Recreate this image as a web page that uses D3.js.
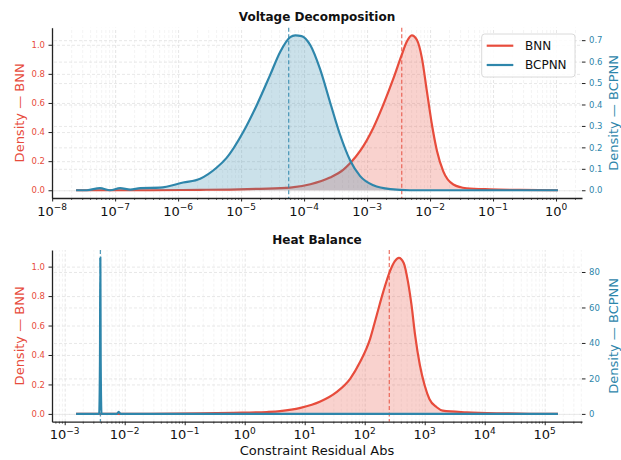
<!DOCTYPE html>
<html>
<head>
<meta charset="utf-8">
<script src="https://cdn.jsdelivr.net/npm/d3@7"></script>
<style>
  body { margin: 0; background: #fff; }
  svg { display: block; font-family: "DejaVu Sans", sans-serif; }
</style>
</head>
<body>
<svg id="chart" width="621" height="460"></svg>
<script>
// Voltage Decomposition: residual as log10 exponent, density
var vdBnnExp = [-7.62, -6.44, -5.65, -5.17, -4.70, -4.22, -3.90, -3.59, -3.38, -3.27, -3.11, -2.90, -2.74, -2.58,
  -2.45, -2.37, -2.29, -2.21, -2.13, -2.05, -1.97, -1.89, -1.79, -1.63, -1.42, -1.05, -0.57, 0.03];
var vdBnnDen = [0, 0, 0.003, 0.005, 0.01, 0.018, 0.041, 0.087, 0.14, 0.185, 0.27, 0.43, 0.59, 0.77,
  0.93, 1.02, 1.064, 1.034, 0.91, 0.68, 0.45, 0.27, 0.13, 0.04, 0.014, 0.006, 0.002, 0];
var vdBcpnnExp = [-7.62, -7.45, -7.24, -7.08, -6.92, -6.76, -6.60, -6.29, -5.92, -5.65, -5.39, -5.23, -4.96, -4.75,
  -4.54, -4.38, -4.22, -4.14, -4.04, -3.90, -3.75, -3.59, -3.43, -3.27, -3.11, -2.90, -2.63, -2.32, 0.03];
var vdBcpnnDen = [0, 0, 0.01, 0, 0.01, 0.003, 0.01, 0.012, 0.036, 0.054, 0.105, 0.151, 0.275, 0.398,
  0.537, 0.645, 0.714, 0.722, 0.719, 0.676, 0.568, 0.413, 0.26, 0.14, 0.066, 0.023, 0.005, 0, 0];
var vdBnnMedian = 3.55e-3;
var vdBcpnnMedian = 5.7e-5;

// Heat Balance
var hbBnnExp = [-2.81, -1.57, -0.74, -0.19, 0.37, 0.59, 0.93, 1.26, 1.53, 1.76, 1.92, 2.09, 2.20, 2.31, 2.42,
  2.50, 2.57, 2.65, 2.72, 2.78, 2.84, 2.92, 3.00, 3.08, 3.20, 3.30, 3.70, 4.25, 4.75, 5.22];
var hbBnnDen = [0, 0, 0.003, 0.007, 0.013, 0.019, 0.041, 0.084, 0.148, 0.24, 0.35, 0.51, 0.67, 0.83, 0.968,
  1.036, 1.06, 1.025, 0.90, 0.74, 0.535, 0.33, 0.193, 0.10, 0.045, 0.022, 0.011, 0.004, 0.001, 0];
var hbBcpnnExp = [-2.81, -2.425, -2.412, -2.406, -2.400, -2.387, -2.13, -2.10, -2.07, 5.22];
var hbBcpnnDen = [0, 0, 30, 88, 30, 0, 0, 1.2, 0, 0];
var hbBnnMedian = 257;
var hbBcpnnMedian = 3.93e-3;

// tick labels
var vdLeftTicks = [0, 0.2, 0.4, 0.6, 0.8, 1.0];
var vdRightTicks = [0, 0.1, 0.2, 0.3, 0.4, 0.5, 0.6, 0.7];
var hbLeftTicks = [0, 0.2, 0.4, 0.6, 0.8, 1.0];
var hbRightTicks = [0, 20, 40, 60, 80];

var seriesNames = ["BNN", "BCPNN"];
var red = "#e74c3c", blue = "#2e86ab";

var svg = d3.select("#chart");
var left = 52, right = 582;

function toPoints(exps, dens) {
  return exps.map(function(e, i) { return [Math.pow(10, e), dens[i]]; });
}

function drawPanel(p) {
  var g = svg.append("g");
  var allExp = p.bnnExp.concat(p.bcpnnExp);
  var lo = d3.min(allExp), hi = d3.max(allExp), pad = (hi - lo) * 0.05;
  var x = d3.scaleLog().domain([Math.pow(10, lo - pad), Math.pow(10, hi + pad)]).range([left, right]);

  var maxL = d3.max(p.bnnDen), maxR = d3.max(p.bcpnnDen);
  var yL = d3.scaleLinear().domain([-0.05 * maxL, 1.05 * maxL]).range([p.bottom, p.top]);
  var yR = d3.scaleLinear().domain([-0.05 * maxR, 1.05 * maxR]).range([p.bottom, p.top]);
  var h = p.bottom - p.top;

  // decade and minor tick values
  var e0 = Math.ceil(lo - pad), e1 = Math.floor(hi + pad);
  var majors = d3.range(e0, e1 + 1).map(function(e) { return Math.pow(10, e); });
  var minors = [];
  d3.range(e0 - 1, e1 + 1).forEach(function(e) {
    for (var k = 2; k < 10; k++) {
      var v = k * Math.pow(10, e);
      if (v >= x.domain()[0] && v <= x.domain()[1]) minors.push(v);
    }
  });

  // grid
  function gridStyle(sel, col, w) {
    sel.select(".domain").remove();
    sel.selectAll("line").attr("stroke", col).attr("stroke-width", w).attr("stroke-dasharray", "3,2");
  }
  g.append("g").attr("transform", "translate(0," + p.bottom + ")")
    .call(d3.axisBottom(x).tickValues(minors).tickSize(-h).tickFormat(""))
    .call(gridStyle, "#ededed", 0.6);
  g.append("g").attr("transform", "translate(0," + p.bottom + ")")
    .call(d3.axisBottom(x).tickValues(majors).tickSize(-h).tickFormat(""))
    .call(gridStyle, "#dedede", 0.8);
  g.append("g").attr("transform", "translate(" + left + ",0)")
    .call(d3.axisLeft(yL).tickValues(p.leftTicks).tickSize(-(right - left)).tickFormat(""))
    .call(gridStyle, "#e2e2e2", 0.8);
  g.append("g").attr("transform", "translate(" + right + ",0)")
    .call(d3.axisRight(yR).tickValues(p.rightTicks).tickSize(-(right - left)).tickFormat(""))
    .call(gridStyle, "#e2e2e2", 0.8);

  // BNN on the left axis
  var bnn = toPoints(p.bnnExp, p.bnnDen);
  var areaL = d3.area().x(function(d) { return x(d[0]); }).y0(yL(0))
    .y1(function(d) { return yL(d[1]); }).curve(d3.curveMonotoneX);
  var lineL = d3.line().x(function(d) { return x(d[0]); })
    .y(function(d) { return yL(d[1]); }).curve(d3.curveMonotoneX);
  g.append("path").attr("d", areaL(bnn)).attr("fill", red).attr("fill-opacity", 0.25);
  g.append("path").attr("d", lineL(bnn)).attr("fill", "none").attr("stroke", red).attr("stroke-width", 2.2);
  g.append("line").attr("x1", x(p.bnnMedian)).attr("x2", x(p.bnnMedian))
    .attr("y1", p.top).attr("y2", p.bottom)
    .attr("stroke", red).attr("stroke-opacity", 0.75).attr("stroke-width", 1.3).attr("stroke-dasharray", "4,2.5");

  // BCPNN on the twin right axis
  var bcp = toPoints(p.bcpnnExp, p.bcpnnDen);
  var areaR = d3.area().x(function(d) { return x(d[0]); }).y0(yR(0))
    .y1(function(d) { return yR(d[1]); }).curve(d3.curveMonotoneX);
  var lineR = d3.line().x(function(d) { return x(d[0]); })
    .y(function(d) { return yR(d[1]); }).curve(d3.curveMonotoneX);
  g.append("path").attr("d", areaR(bcp)).attr("fill", blue).attr("fill-opacity", 0.25);
  g.append("path").attr("d", lineR(bcp)).attr("fill", "none").attr("stroke", blue).attr("stroke-width", 2.2);
  g.append("line").attr("x1", x(p.bcpnnMedian)).attr("x2", x(p.bcpnnMedian))
    .attr("y1", p.top).attr("y2", p.bottom)
    .attr("stroke", blue).attr("stroke-opacity", 0.85).attr("stroke-width", 1.2).attr("stroke-dasharray", "4,2.5");

  // x axis
  var xAx = g.append("g").attr("transform", "translate(0," + p.bottom + ")").attr("color", "#222")
    .call(d3.axisBottom(x).tickValues(majors).tickSize(3.5).tickSizeOuter(0).tickFormat(""));
  xAx.select(".domain").attr("stroke-width", 1.3);
  xAx.selectAll(".tick line").attr("stroke-width", 1);
  g.append("g").attr("transform", "translate(0," + p.bottom + ")").attr("color", "#222")
    .call(d3.axisBottom(x).tickValues(minors).tickSize(2).tickFormat(""))
    .call(function(s) { s.select(".domain").remove(); })
    .selectAll("line").attr("stroke-width", 0.7);
  majors.forEach(function(v) {
    var e = Math.round(Math.log10(v));
    var t = g.append("text").attr("x", x(v)).attr("y", p.bottom + 17.5)
      .attr("text-anchor", "middle").attr("fill", "#111");
    t.append("tspan").attr("font-size", 13).text("10");
    t.append("tspan").attr("font-size", 9).attr("dy", -5.5).text(String(e).replace("-", "\u2212"));
  });

  // left y axis (BNN)
  var yAxL = g.append("g").attr("transform", "translate(" + left + ",0)").attr("color", "#222")
    .call(d3.axisLeft(yL).tickValues(p.leftTicks).tickSize(3.5).tickSizeOuter(0).tickPadding(3.5)
      .tickFormat(d3.format(".1f")));
  yAxL.select(".domain").attr("stroke-width", 1.3);
  yAxL.selectAll("text").attr("fill", red).attr("font-size", 8.5).attr("font-family", "DejaVu Sans");

  // right y axis (BCPNN)
  var yAxR = g.append("g").attr("transform", "translate(" + right + ",0)").attr("color", "#222")
    .call(d3.axisRight(yR).tickValues(p.rightTicks).tickSize(3.5).tickPadding(3.5).tickFormat(p.rightFmt));
  yAxR.select(".domain").remove();
  yAxR.selectAll("text").attr("fill", blue).attr("font-size", 8.5).attr("font-family", "DejaVu Sans");

  // axis labels and title
  var mid = (p.top + p.bottom) / 2;
  g.append("text").attr("transform", "translate(23.5," + mid + ") rotate(-90)")
    .attr("text-anchor", "middle").attr("font-size", 13).attr("fill", red).text("Density \u2014 BNN");
  g.append("text").attr("transform", "translate(618," + mid + ") rotate(-90)")
    .attr("text-anchor", "middle").attr("font-size", 13).attr("fill", blue).text("Density \u2014 BCPNN");
  g.append("text").attr("x", (left + right) / 2).attr("y", p.titleY)
    .attr("text-anchor", "middle").attr("font-size", 12).attr("font-weight", "bold").attr("fill", "#111")
    .text(p.title);
}

drawPanel({
  title: "Voltage Decomposition", titleY: 20.5, top: 27.7, bottom: 198,
  bnnExp: vdBnnExp, bnnDen: vdBnnDen, bcpnnExp: vdBcpnnExp, bcpnnDen: vdBcpnnDen,
  bnnMedian: vdBnnMedian, bcpnnMedian: vdBcpnnMedian,
  leftTicks: vdLeftTicks, rightTicks: vdRightTicks, rightFmt: d3.format(".1f")
});
drawPanel({
  title: "Heat Balance", titleY: 244, top: 250, bottom: 421.7,
  bnnExp: hbBnnExp, bnnDen: hbBnnDen, bcpnnExp: hbBcpnnExp, bcpnnDen: hbBcpnnDen,
  bnnMedian: hbBnnMedian, bcpnnMedian: hbBcpnnMedian,
  leftTicks: hbLeftTicks, rightTicks: hbRightTicks, rightFmt: d3.format("d")
});

// x label
svg.append("text").attr("x", (left + right) / 2).attr("y", 455)
  .attr("text-anchor", "middle").attr("font-size", 13).attr("fill", "#111").text("Constraint Residual Abs");

// legend (top panel)
var lg = svg.append("g").attr("transform", "translate(481.7,34)");
lg.append("rect").attr("width", 93.3).attr("height", 43).attr("rx", 3)
  .attr("fill", "#fff").attr("fill-opacity", 0.85).attr("stroke", "#d0d0d0").attr("stroke-width", 0.8);
lg.selectAll("g.item").data(seriesNames).enter().append("g").attr("class", "item")
  .attr("transform", function(d, i) { return "translate(0," + (11.7 + i * 19.3) + ")"; })
  .each(function(d, i) {
    var it = d3.select(this);
    it.append("line").attr("x1", 5).attr("x2", 31.6)
      .attr("stroke", i === 0 ? red : blue).attr("stroke-width", 2.2);
    it.append("text").attr("x", 43.3).attr("dy", "0.35em").attr("font-size", 12).attr("fill", "#111").text(d);
  });
</script>
</body>
</html>
